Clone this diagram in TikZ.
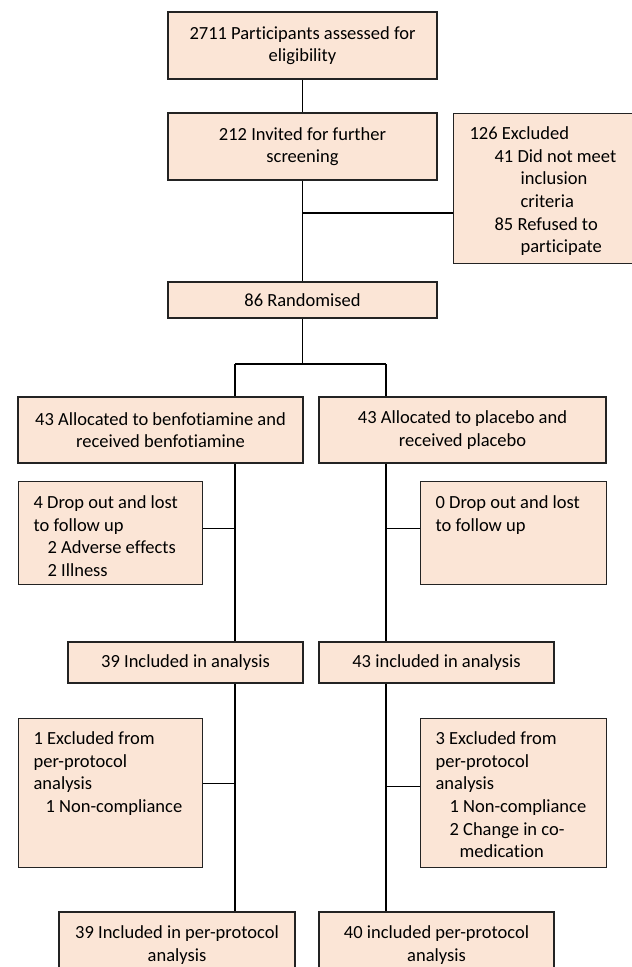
\documentclass[tikz,border=0pt]{standalone}
\usepackage{fontspec}
\setmainfont{Carlito}[Ligatures=CommonOff]
\usetikzlibrary{positioning}
\definecolor{peach}{RGB}{251,229,214}
\definecolor{edge}{RGB}{35,35,35}

\begin{document}
\begin{tikzpicture} [
  x = 1pt, y = -1pt,
  line width = 1.2pt,
  box/.style = { draw = edge, fill = peach, align = center, inner sep = 0,
                 font = \fontsize{18.5}{22.6}\selectfont },
  side/.style = { box, anchor = north west, align = flush left, inner xsep = 15pt,
                  inner ysep = 14pt, text height = 12pt }
  ]
  \useasboundingbox (0,0) rectangle (632,967);

  % screening
  \node[box, minimum width=269pt, minimum height=67pt] (assess) at (302.5,45.5) {2711 Participants assessed for\\eligibility};
  \node[box, minimum width=269pt, minimum height=67pt] (invite) at (302.5,146.5) {212 Invited for further\\screening};
  \node[side, inner xsep=16pt, minimum width=192pt, minimum height=150pt, text width=160pt, text depth=110pt] (excl) at (453,113)
    {126 Excluded\\\hspace*{25pt}41 Did not meet\\\hspace*{51pt}inclusion\\\hspace*{51pt}criteria\\\hspace*{25pt}85 Refused to\\\hspace*{51pt}participate};
  \node[box, minimum width=269pt, minimum height=36pt] (rand) at (302.5,300) {86 Randomised};

  % allocation
  \node[box, minimum width=285pt, minimum height=66pt] (allocB) at (160.5,430) {43 Allocated to benfotiamine and\\received benfotiamine};
  \node[box, minimum width=287pt, minimum height=66pt] (allocP) at (462.5,430) {43 Allocated to placebo and\\received placebo};
  \node[side, inner ysep=15pt, minimum width=184pt, minimum height=103pt, text width=154pt, text depth=61pt] (dropB) at (18,481)
    {4 Drop out and lost\\to follow up\\\hspace*{14pt}2 Adverse effects\\\hspace*{14pt}2 Illness};
  \node[side, inner ysep=15pt, minimum width=186pt, minimum height=103pt, text width=156pt, text depth=61pt] (dropP) at (420,481)
    {0 Drop out and lost\\to follow up};

  % analysis
  \node[box, minimum width=235pt, minimum height=41pt] (anaB) at (185.5,662.5) {39 Included in analysis};
  \node[box, minimum width=235pt, minimum height=41pt] (anaP) at (436.5,662.5) {43 included in analysis};
  \node[side, minimum width=184pt, minimum height=149pt, text width=154pt, text depth=109pt] (ppexB) at (18,718)
    {1 Excluded from\\per-protocol\\analysis\\\hspace*{12pt}1 Non-compliance};
  \node[side, minimum width=186pt, minimum height=149pt, text width=156pt, text depth=109pt] (ppexP) at (420,718)
    {3 Excluded from\\per-protocol\\analysis\\\hspace*{14pt}1 Non-compliance\\\hspace*{14pt}2 Change in co-\\\hspace*{24pt}medication};
  \node[box, minimum width=236pt, minimum height=66pt] (ppB) at (177,945) {39 Included in per-protocol\\analysis};
  \node[box, minimum width=235pt, minimum height=66pt] (ppP) at (436.5,945) {40 included per-protocol\\analysis};

  % connectors
  \coordinate (exj) at (302.5,213);
  \coordinate (split) at (302.5,364);
  \coordinate (armB) at (235,364);
  \coordinate (armP) at (386,364);
  \draw (assess) -- (invite);
  \draw (invite) -- (rand);
  \draw (exj) -- (exj -| excl.west);
  \draw (rand) -- (split);
  \draw (armB) -- (armP);
  \draw (armB) -- (armB |- allocB.north);
  \draw (armP) -- (armP |- allocP.north);
  \draw (armB |- allocB.south) -- (armB |- anaB.north);
  \draw (armP |- allocP.south) -- (armP |- anaP.north);
  \draw ([yshift=4.5pt]dropB.east) -- ([yshift=4.5pt]dropB.east -| armB);
  \draw ([yshift=4.5pt]dropP.west) -- ([yshift=4.5pt]dropP.west -| armP);
  \draw (armB |- anaB.south) -- (armB |- ppB.north);
  \draw (armP |- anaP.south) -- (armP |- ppP.north);
  \draw ([yshift=9.5pt]ppexB.east) -- ([yshift=9.5pt]ppexB.east -| armB);
  \draw ([yshift=6.5pt]ppexP.west) -- ([yshift=6.5pt]ppexP.west -| armP);
\end{tikzpicture}
\end{document}
